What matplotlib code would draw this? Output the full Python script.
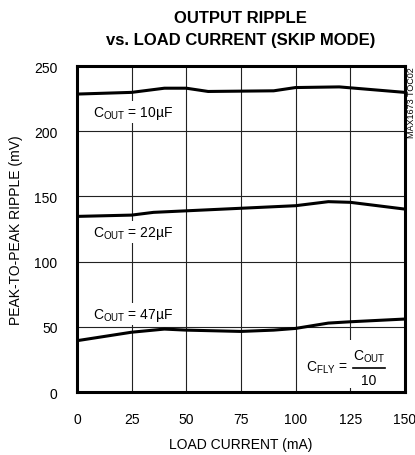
import matplotlib
matplotlib.use("Agg")
import matplotlib.pyplot as plt
from matplotlib import font_manager as fm

names = {f.name for f in fm.fontManager.ttflist}
FONT = "Liberation Sans Narrow" if "Liberation Sans Narrow" in names else "Liberation Sans"
plt.rcParams['font.family'] = [FONT, 'DejaVu Sans']
plt.rcParams['mathtext.fontset'] = 'custom'
plt.rcParams['mathtext.rm'] = FONT
plt.rcParams['mathtext.it'] = FONT
plt.rcParams['mathtext.bf'] = FONT + ':bold'

# data
x10 = [0, 25, 40, 50, 60, 90, 100, 120, 150]
y10 = [228.5, 229.8, 233, 233, 230.5, 231, 233.5, 234, 229.8]
x22 = [0, 25, 35, 100, 115, 125, 150]
y22 = [134.7, 135.7, 137.8, 142.9, 146, 145.5, 140.3]
x47 = [0, 25, 40, 50, 75, 90, 100, 115, 125, 150]
y47 = [39.4, 45.9, 48.3, 47.5, 46.5, 47.5, 48.8, 52.9, 53.9, 56]
xticks = [0, 25, 50, 75, 100, 125, 150]
yticks = [0, 50, 100, 150, 200, 250]

fig = plt.figure(figsize=(4.15, 4.56), dpi=100)
ax = fig.add_axes([0.1855, 0.138, 0.790, 0.715])
ax.set_xlim(0, 150)
ax.set_ylim(0, 250)
ax.set_xticks(xticks)
ax.set_yticks(yticks)
ax.tick_params(length=0, labelsize=10, pad=14)
ax.grid(True, color='#222222', lw=0.8, zorder=0)
for s in ax.spines.values():
    s.set_linewidth(2.2)
ax.set_axisbelow(True)

for xs, ys in [(x10, y10), (x22, y22), (x47, y47)]:
    ax.plot(xs, ys, color='black', lw=2.2, zorder=3, solid_capstyle='butt')

bb = dict(facecolor='white', edgecolor='none', pad=1.5)
ax.text(7.3, 214.7, r'$\mathregular{C_{OUT}}$ = 10µF', fontsize=10, va='center', ha='left', bbox=bb, zorder=4)
ax.text(7.3, 122.7, r'$\mathregular{C_{OUT}}$ = 22µF', fontsize=10, va='center', ha='left', bbox=bb, zorder=4)
ax.text(7.3, 59.8, r'$\mathregular{C_{OUT}}$ = 47µF', fontsize=10, va='center', ha='left', bbox=bb, zorder=4)

# C_FLY = C_OUT / 10 annotation
ax.add_patch(plt.Rectangle((103, 3), 42, 37, facecolor='white', edgecolor='none', zorder=4))
ax.text(105, 19, r'$\mathregular{C_{FLY}}$ =', fontsize=10, va='center', ha='left', zorder=5)
ax.text(133.5, 27.5, r'$\mathregular{C_{OUT}}$', fontsize=10, va='center', ha='center', zorder=5)
ax.plot([126.2, 140.8], [18.4, 18.4], color='black', lw=1.2, zorder=5)
ax.text(133.5, 9, '10', fontsize=10, va='center', ha='center', zorder=5)

fig.text(0.991, 0.852, 'MAX1673 TOC02', rotation=90, fontsize=6.5, ha='center', va='top')

fig.text(0.58, 0.96, 'OUTPUT RIPPLE', fontsize=12, fontweight='bold', ha='center', va='center')
fig.text(0.58, 0.912, 'vs. LOAD CURRENT (SKIP MODE)', fontsize=12, fontweight='bold', ha='center', va='center')
ax.set_xlabel('LOAD CURRENT (mA)', fontsize=10, labelpad=8)
ax.set_ylabel('PEAK-TO-PEAK RIPPLE (mV)', fontsize=10, labelpad=8)

fig.savefig('out.png', dpi=100)
